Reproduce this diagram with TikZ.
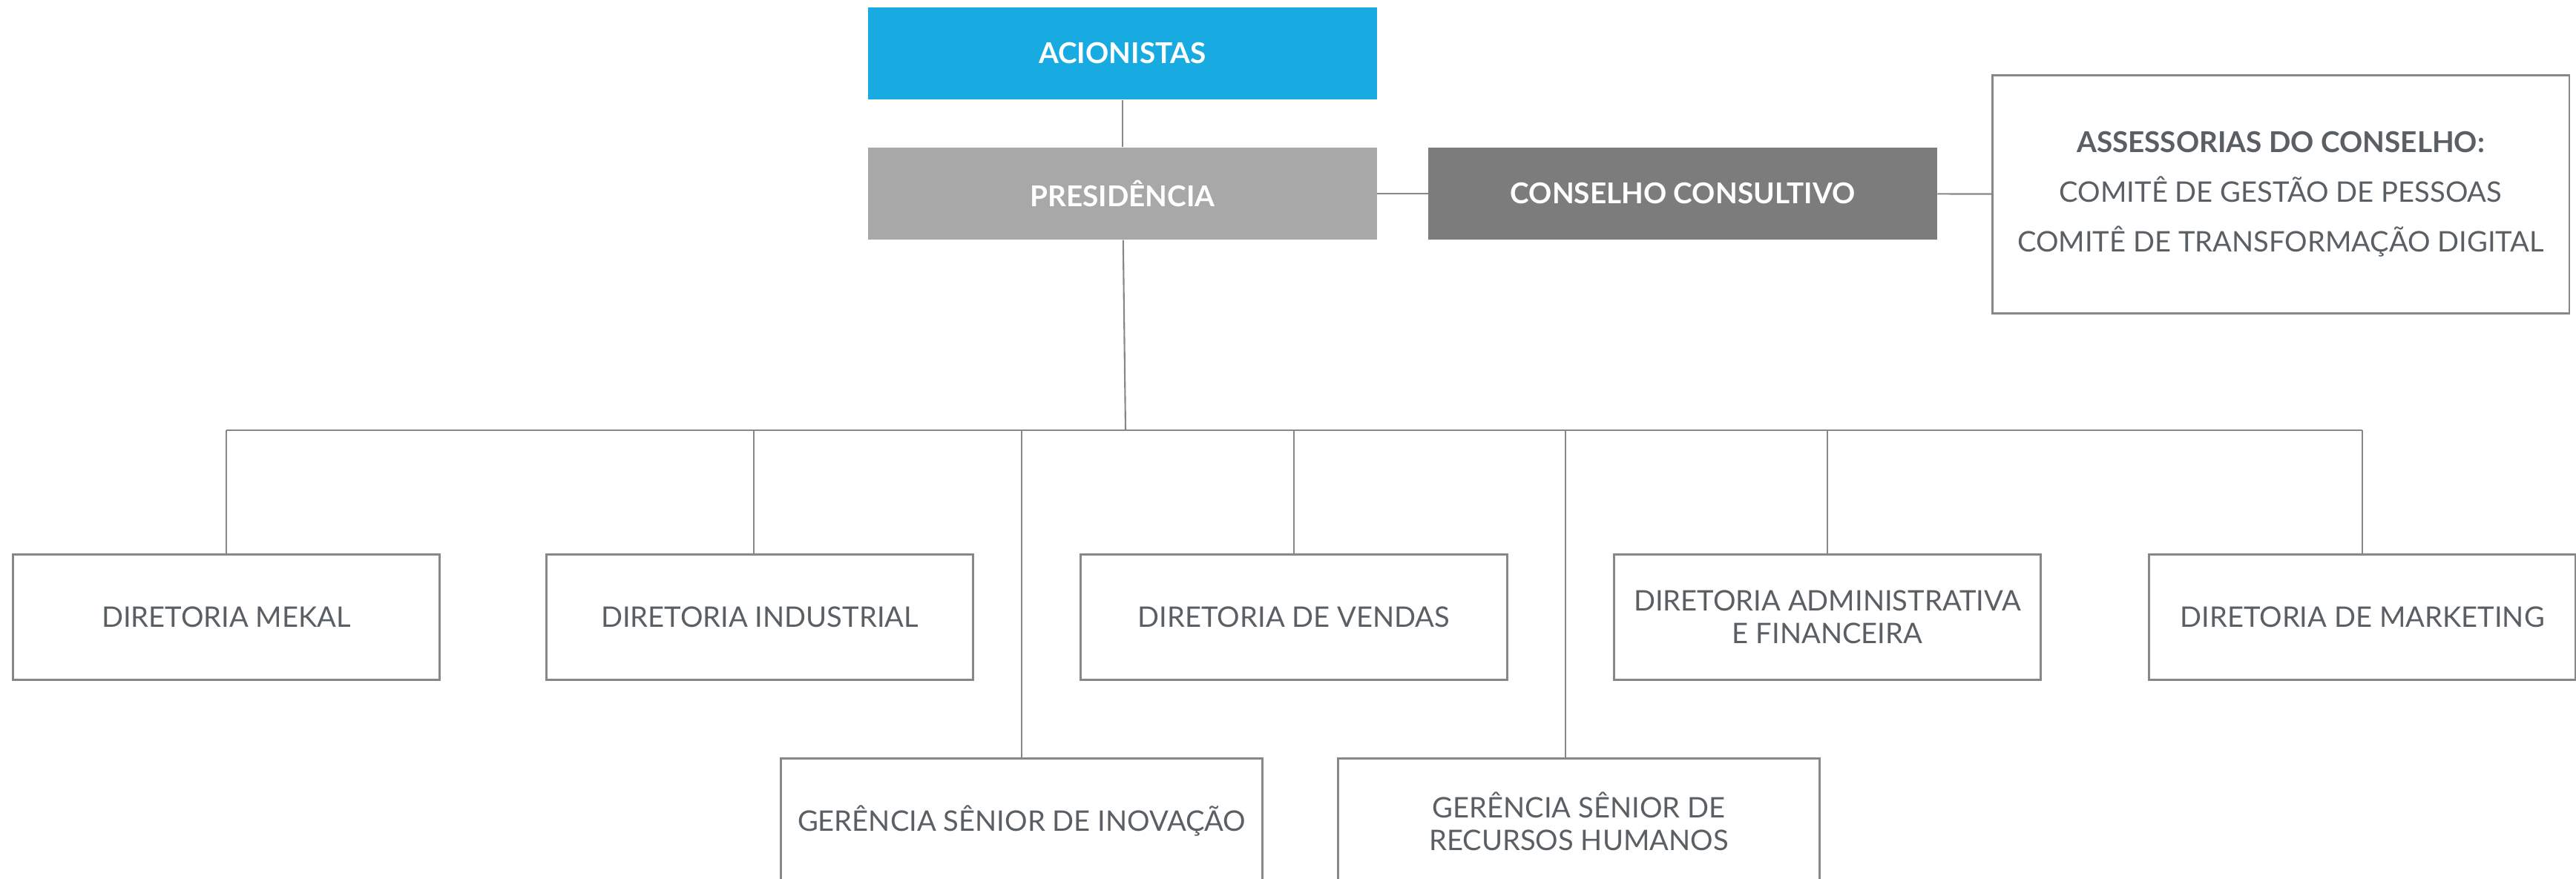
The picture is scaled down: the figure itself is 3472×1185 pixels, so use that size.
\documentclass[tikz,border=0pt]{standalone}
\usepackage{fontspec}
\setmainfont{Lato}
\definecolor{azul}{RGB}{23,171,226}
\definecolor{cinzaclaro}{RGB}{168,168,168}
\definecolor{cinzaescuro}{RGB}{124,124,124}
\definecolor{texto}{RGB}{90,95,100}
\definecolor{linha}{RGB}{135,135,135}
\tikzstyle{cargo}=[rectangle, text=white, font=\fontsize{11}{13}\selectfont\bfseries,
    minimum width=6.85cm, minimum height=1.24cm]
\tikzstyle{setor}=[rectangle, draw=linha, line width=0.7pt, text=texto, align=center,
    font=\fontsize{10.85}{12.5}\selectfont, minimum width=5.75cm, minimum height=1.69cm]
\newcommand{\cargo}{\node[cargo]}
\newcommand{\setor}{\node[setor]}

\begin{document}
\begin{tikzpicture}[x=0.01cm, y=-0.01cm
    ,every edge/.style={draw=linha, line width=0.6pt}
]
\useasboundingbox (0,0) rectangle (3472,1185);
\clip (0,0) rectangle (3472,1185);
\cargo[fill=azul] (acio) at (1513, 72) {ACIONISTAS};
\cargo[fill=cinzaclaro] (pres) at (1513, 261) {PRESIDÊNCIA};
\cargo[fill=cinzaescuro] (cons) at (2268, 261) {CONSELHO CONSULTIVO};
\setor[minimum width=7.77cm, minimum height=3.21cm] (asse) at (3074, 262)
    {{\fontsize{11}{13}\selectfont\bfseries ASSESSORIAS DO CONSELHO:}\\[6.5pt]
     COMITÊ DE GESTÃO DE PESSOAS\\[6.5pt] COMITÊ DE TRANSFORMAÇÃO DIGITAL};
\coordinate (bus) at (1517, 580);
\setor (dmek) at (305, 832) {DIRETORIA MEKAL};
\setor (dind) at (1024, 832) {DIRETORIA INDUSTRIAL};
\setor (dven) at (1744, 832) {DIRETORIA DE VENDAS};
\setor (dadm) at (2463, 832) {DIRETORIA ADMINISTRATIVA\\E FINANCEIRA};
\setor (dmkt) at (3184, 832) {DIRETORIA DE MARKETING};
\setor[minimum width=6.49cm] (gino) at (1377, 1107) {GERÊNCIA SÊNIOR DE INOVAÇÃO};
\setor[minimum width=6.49cm] (grh) at (2128, 1107) {GERÊNCIA SÊNIOR DE\\RECURSOS HUMANOS};
\path
(acio) edge (pres)
(pres) edge (cons) edge (bus)
(cons) edge (asse)
(dmek.north |- bus) edge (dmkt.north |- bus)
(dmek) edge (dmek.north |- bus)
([xshift=-0.08cm]dind.north) edge ([xshift=-0.08cm]dind.north |- bus)
(dven) edge (dven.north |- bus)
(dadm) edge (dadm.north |- bus)
(dmkt) edge (dmkt.north |- bus)
(gino) edge (gino.north |- bus)
([xshift=-0.18cm]grh.north) edge ([xshift=-0.18cm]grh.north |- bus)
;
\end{tikzpicture}
\end{document}
